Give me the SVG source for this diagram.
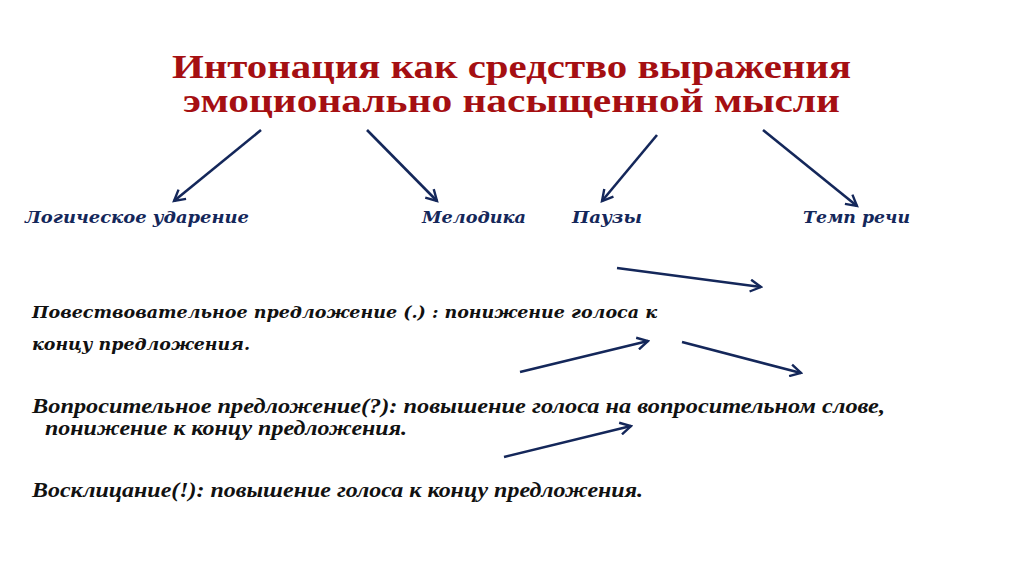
<svg xmlns="http://www.w3.org/2000/svg" width="1024" height="574" viewBox="0 0 1024 574">
<style>
.title{font-family:"Liberation Serif","Times New Roman",serif;font-weight:bold;font-size:33px;fill:#a50f12;text-anchor:middle}
.lbl{font-family:"DejaVu Serif",Georgia,serif;font-weight:bold;font-style:italic;font-size:17px;fill:#14275a}
.body{font-family:"DejaVu Serif",Georgia,serif;font-weight:bold;font-style:italic;font-size:17px;fill:#111}
.body2{font-family:"Liberation Serif","Times New Roman",serif;font-weight:bold;font-style:italic;font-size:20px;fill:#111}
.arr{stroke:#14275a;stroke-width:2.6;fill:none;marker-end:url(#ah)}
</style>
<defs>
<marker id="ah" viewBox="0 0 12 12" refX="10" refY="6" markerWidth="5.5" markerHeight="5.5" markerUnits="strokeWidth" orient="auto">
<path d="M1,1 L10,6 L1,11" fill="none" stroke="#14275a" stroke-width="2"/>
</marker>
</defs>
<rect width="1024" height="574" fill="#fff"/>
<g id="title">
<text class="title" x="511.5" y="78" textLength="679" lengthAdjust="spacingAndGlyphs">Интонация как средство выражения</text>
<text class="title" x="511.5" y="112" textLength="657" lengthAdjust="spacingAndGlyphs">эмоционально насыщенной мысли</text>
</g>
<g id="n-logic"><text class="lbl" x="25" y="223" textLength="224" lengthAdjust="spacingAndGlyphs">Логическое ударение</text></g>
<g id="n-melody"><text class="lbl" x="422" y="223" textLength="104" lengthAdjust="spacingAndGlyphs">Мелодика</text></g>
<g id="n-pause"><text class="lbl" x="572" y="223" textLength="70" lengthAdjust="spacingAndGlyphs">Паузы</text></g>
<g id="n-tempo"><text class="lbl" x="803" y="223" textLength="107" lengthAdjust="spacingAndGlyphs">Темп речи</text></g>
<g id="t-narr">
<text class="body" x="32" y="318" textLength="625" lengthAdjust="spacingAndGlyphs">Повествовательное предложение (.) : понижение голоса к</text>
<text class="body" x="32" y="350" textLength="218" lengthAdjust="spacingAndGlyphs">концу предложения.</text>
</g>
<g id="t-quest">
<text class="body2" x="32" y="413" textLength="853" lengthAdjust="spacingAndGlyphs">Вопросительное предложение(?): повышение голоса на вопросительном слове,</text>
<text class="body2" x="45" y="435" textLength="362" lengthAdjust="spacingAndGlyphs">понижение к концу предложения.</text>
</g>
<g id="t-excl">
<text class="body2" x="32" y="497" textLength="611" lengthAdjust="spacingAndGlyphs">Восклицание(!): повышение голоса к концу предложения.</text>
</g>
<g id="connectors">
<line class="arr" x1="261" y1="130" x2="174" y2="201"/>
<line class="arr" x1="367" y1="130" x2="437" y2="201"/>
<line class="arr" x1="657" y1="135" x2="602" y2="201"/>
<line class="arr" x1="763" y1="130" x2="857" y2="206"/>
<line class="arr" x1="617" y1="268" x2="761" y2="287"/>
<line class="arr" x1="520" y1="372" x2="648" y2="341"/>
<line class="arr" x1="682" y1="342" x2="801" y2="373"/>
<line class="arr" x1="504" y1="457" x2="631" y2="426"/>
</g>
</svg>
